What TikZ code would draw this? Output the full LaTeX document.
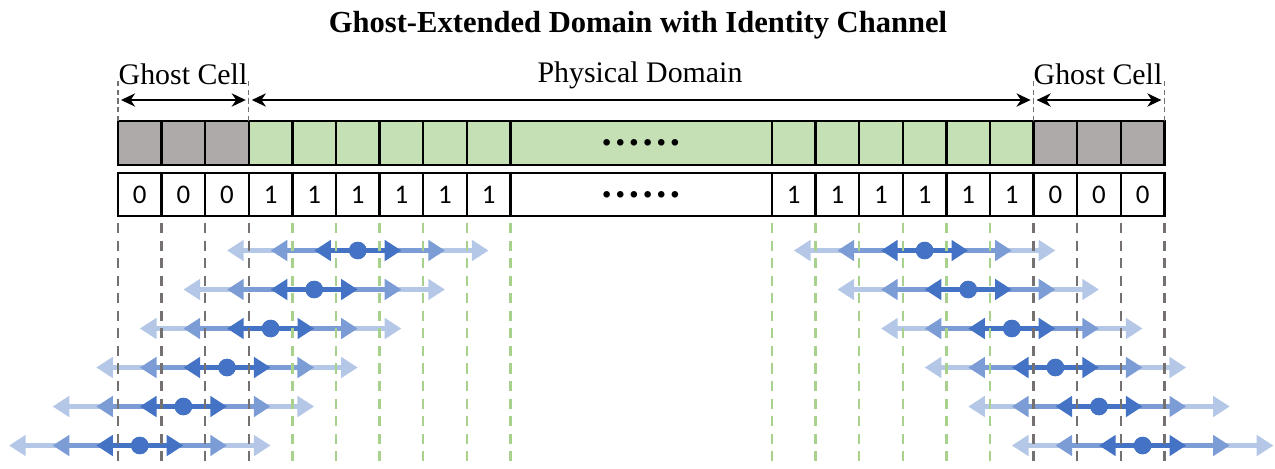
\documentclass[tikz,border=0pt]{standalone}
\usepackage{fontspec}
\setmainfont{Liberation Serif}
\newfontfamily\numfont{Carlito}
\usetikzlibrary{arrows.meta, positioning}

\definecolor{ghostgray}{HTML}{AEAAAA}
\definecolor{physgreen}{HTML}{C5E0B4}
\definecolor{guidegray}{HTML}{767171}
\definecolor{guidegreen}{HTML}{A9D18E}
\definecolor{stencilblue}{HTML}{4472C4}

\def\cw{0.872cm}% one cell
\tikzstyle{cell} = [rectangle, draw, line width=1.4pt, minimum width=\cw,
  minimum height=0.87cm, inner sep=0pt, outer sep=0pt]
\tikzstyle{ghost} = [cell, fill=ghostgray]
\tikzstyle{phys} = [cell, fill=physgreen]
\tikzstyle{mask} = [cell, fill=white, font=\numfont\fontsize{15.3}{18}\selectfont]
\tikzstyle{gap} = [cell, minimum width=5.232cm, font=\bfseries\fontsize{23}{24}\selectfont]
\tikzstyle{gguide} = [draw=guidegray, line width=1.3pt, dash pattern=on 5.7pt off 4.3pt]
\tikzstyle{vguide} = [draw=guidegreen, line width=1.3pt, dash pattern=on 5.7pt off 4.3pt]
\tikzstyle{topguide} = [draw=guidegray, line width=0.6pt, dash pattern=on 3pt off 2pt]
\tikzstyle{span} = [draw, line width=1.3pt, {Stealth[length=8pt,width=7.5pt,inset=2.5pt]}-{Stealth[length=8pt,width=7.5pt,inset=2.5pt]},
  shorten <=1.7pt, shorten >=1.7pt]
\tikzstyle{label} = [inner sep=0pt, font=\fontsize{17}{20}\selectfont]
\tikzstyle{reach} = [line width=2.8pt, {Triangle[length=9.5pt,width=11.5pt]}-{Triangle[length=9.5pt,width=11.5pt]}]
\tikzstyle{reach1} = [reach, draw=stencilblue, fill=stencilblue]
\tikzstyle{reach2} = [reach, draw=stencilblue!70!white, fill=stencilblue!70!white]
\tikzstyle{reach3} = [reach, draw=stencilblue!40!white, fill=stencilblue!40!white]
\tikzstyle{stencilpt} = [circle, fill=stencilblue, minimum size=0.35cm, inner sep=0pt]

\begin{document}
\begin{tikzpicture}[x=0.02cm, y=-0.02cm]
    \useasboundingbox (0,0) rectangle (1275,468);

    \node [font=\bfseries\fontsize{17.4}{20}\selectfont] (title) at (638,25) {Ghost-Extended Domain with Identity Channel};

    % domain row and identity channel row
    \foreach \i in {0,1,2,21,22,23} {
      \node [ghost] (t\i) at ({118+43.6*(\i+0.5)},143) {};
      \node [mask] (b\i) at ({118+43.6*(\i+0.5)},194.5) {0};
    }
    \foreach \i in {3,...,8,15,16,...,20} {
      \node [phys] (t\i) at ({118+43.6*(\i+0.5)},143) {};
      \node [mask] (b\i) at ({118+43.6*(\i+0.5)},194.5) {1};
    }
    \node [gap, fill=physgreen] (tdots) at (641.2,143) {……};
    \node [gap, fill=white] (bdots) at (641.2,194.5) {……};

    \coordinate (guidetop) at (0,78);
    \coordinate (spany) at (0,100);
    \coordinate (base) at (0,468);

    % extent markers
    \draw [topguide] (t0.north west) -- (t0.north west |- guidetop);
    \draw [topguide] (t2.north east) -- (t2.north east |- guidetop);
    \draw [topguide] (t21.north west) -- (t21.north west |- guidetop);
    \draw [topguide] (t23.north east) -- (t23.north east |- guidetop);
    \path [span] (t0.north west |- spany) -- (t2.north east |- spany);
    \path [span] (t3.north west |- spany) -- (t20.north east |- spany);
    \path [span] (t21.north west |- spany) -- (t23.north east |- spany);
    \node [label] (lghost) at (183,74) {Ghost Cell};
    \node [label] (phys) at (640,75) {Physical Domain};
    \node [label] (rghost) at (1098,74) {Ghost Cell};

    % stencil reach of each point
    \foreach \k in {1,...,6} {
      \node [stencilpt] (lp\k) at ({118+43.6*(6-\k+0.5)},{250.5+39*(\k-1)}) {};
      \node [stencilpt] (rp\k) at ({118+43.6*(17+\k+0.5)},{250.5+39*(\k-1)}) {};
      \foreach \p in {lp\k, rp\k} {
        \draw [reach3] ([xshift=-3*\cw]\p.center) -- ([xshift=3*\cw]\p.center);
        \draw [reach2] ([xshift=-2*\cw]\p.center) -- ([xshift=2*\cw]\p.center);
        \draw [reach1] ([xshift=-1*\cw]\p.center) -- ([xshift=1*\cw]\p.center);
        \node [stencilpt] at (\p) {};
      }
    }

    % cell boundaries
    \foreach \i in {0,...,3,21,22,23}
      \draw [gguide] ([yshift=-3.8pt]b\i.south west) -- (b\i.south west |- base);
    \draw [gguide] ([yshift=-3.8pt]b23.south east) -- (b23.south east |- base);
    \foreach \i in {4,...,8,15,16,...,20}
      \draw [vguide] ([yshift=-3.8pt]b\i.south west) -- (b\i.south west |- base);
    \draw [vguide] ([yshift=-3.8pt]bdots.south west) -- (bdots.south west |- base);

  \end{tikzpicture}
\end{document}
